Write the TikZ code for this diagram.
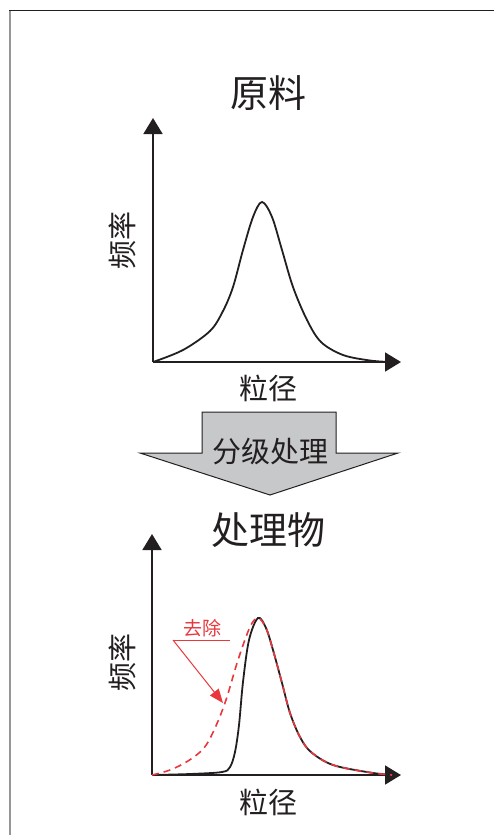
\documentclass[tikz,border=0pt]{standalone}
\usepackage{fontspec}
\usepackage{xcolor}
\usetikzlibrary{arrows.meta,positioning}
\newfontfamily\cjk{Noto Sans CJK SC}
\definecolor{inkgray}{RGB}{35,31,32}
\definecolor{framegray}{RGB}{150,150,150}
\definecolor{fillgray}{RGB}{199,200,202}
\definecolor{removered}{RGB}{232,56,61}
\tikzset{
    % Define standard node styles
    titletext/.style={
        font=\cjk\fontsize{38}{40}\selectfont, text=inkgray, inner sep=0pt
    },
    axislabel/.style={
        font=\cjk\fontsize{29}{31}\selectfont, text=inkgray, inner sep=0pt
    },
    axis/.style={
        -{Triangle[length=16pt,width=19pt]}, line width=1.8pt, color=inkgray
    },
    curve/.style={
        line width=1.8pt, color=inkgray, smooth, tension=0.55
    },
    removedcurve/.style={
        line width=1.6pt, color=removered, dash pattern=on 7pt off 5pt,
        smooth, tension=0.55
    },
    annotation/.style={
        font=\cjk\fontsize{19}{21}\selectfont, text=removered, inner sep=0pt
    },
    classarrow/.style={
        draw=inkgray, line width=1pt, fill=fillgray, line join=miter
    }
}
\begin{document}
\begin{tikzpicture}[x=1pt,y=-1pt]
\useasboundingbox (0,0) rectangle (494,835);

% frame
\draw[framegray, line width=2pt] (10,10) -- (10,835);
\draw[inkgray, line width=1.5pt] (9,10.5) -- (494,10.5);

% raw material
\node[titletext] (rawtitle) at (268,93) {原料};
\coordinate (rawo) at (153,362);
\coordinate (rawy) at (153,118);
\coordinate (rawx) at (401,362);
\draw[axis] (rawo) -- (rawy);
\draw[axis] (rawo) -- (rawx);
\node[axislabel, rotate=90] (rawfreq) at (122,240) {频率};
\node[axislabel] (rawsize) at (268,388) {粒径};
\draw[curve] plot coordinates {(153,362) (183,350) (210,331) (223,311)
    (233,287) (243,250) (253,217) (262,202) (272,217) (282,250) (293,287)
    (307,320) (321,342) (343,355) (370,360.5) (390,362)};

% classification
\draw[classarrow] (202,412) -- (336,412) -- (336,453) -- (398,453)
    -- (270,495) -- (140,453) -- (202,453) -- cycle;
\node[axislabel] (classify) at (270,452) {分级处理};

% treated product
\node[titletext] (prodtitle) at (268,530) {处理物};
\coordinate (prodo) at (152,775);
\coordinate (prody) at (152,534);
\coordinate (prodx) at (401,775);
\draw[axis] (prodo) -- (prody);
\draw[axis] (prodo) -- (prodx);
\node[axislabel, rotate=90] (prodfreq) at (122,662) {频率};
\node[axislabel] (prodsize) at (268,802) {粒径};
\draw[curve] plot coordinates {(152,775) (190,774) (222,772) (230,767)
    (235,752) (239,725) (243,682) (249,640) (258,618) (266,628) (273,650)
    (282,683) (290,713) (300,737) (311,752) (333,765) (370,772.5) (392,775)};
\draw[removedcurve] plot coordinates {(152,775) (170,770) (188,761)
    (204,748) (215,728) (226,700) (238,660) (250,627) (258,618) (266,628)
    (273,650) (282,683) (290,713) (300,737) (311,752) (333,765) (370,772.5)
    (392,775)};

% removed part
\node[annotation] (removed) at (202,628) {去除};
\coordinate (removedl) at (173,640);
\coordinate (removedr) at (230,640);
\coordinate (removedtip) at (223,703);
\draw[removered, line width=1pt] (removedr) -- (removedl);
\draw[removered, line width=1pt, -{Triangle[length=14pt,width=11pt]}]
    (removedl) -- (removedtip);

\end{tikzpicture}
\end{document}
